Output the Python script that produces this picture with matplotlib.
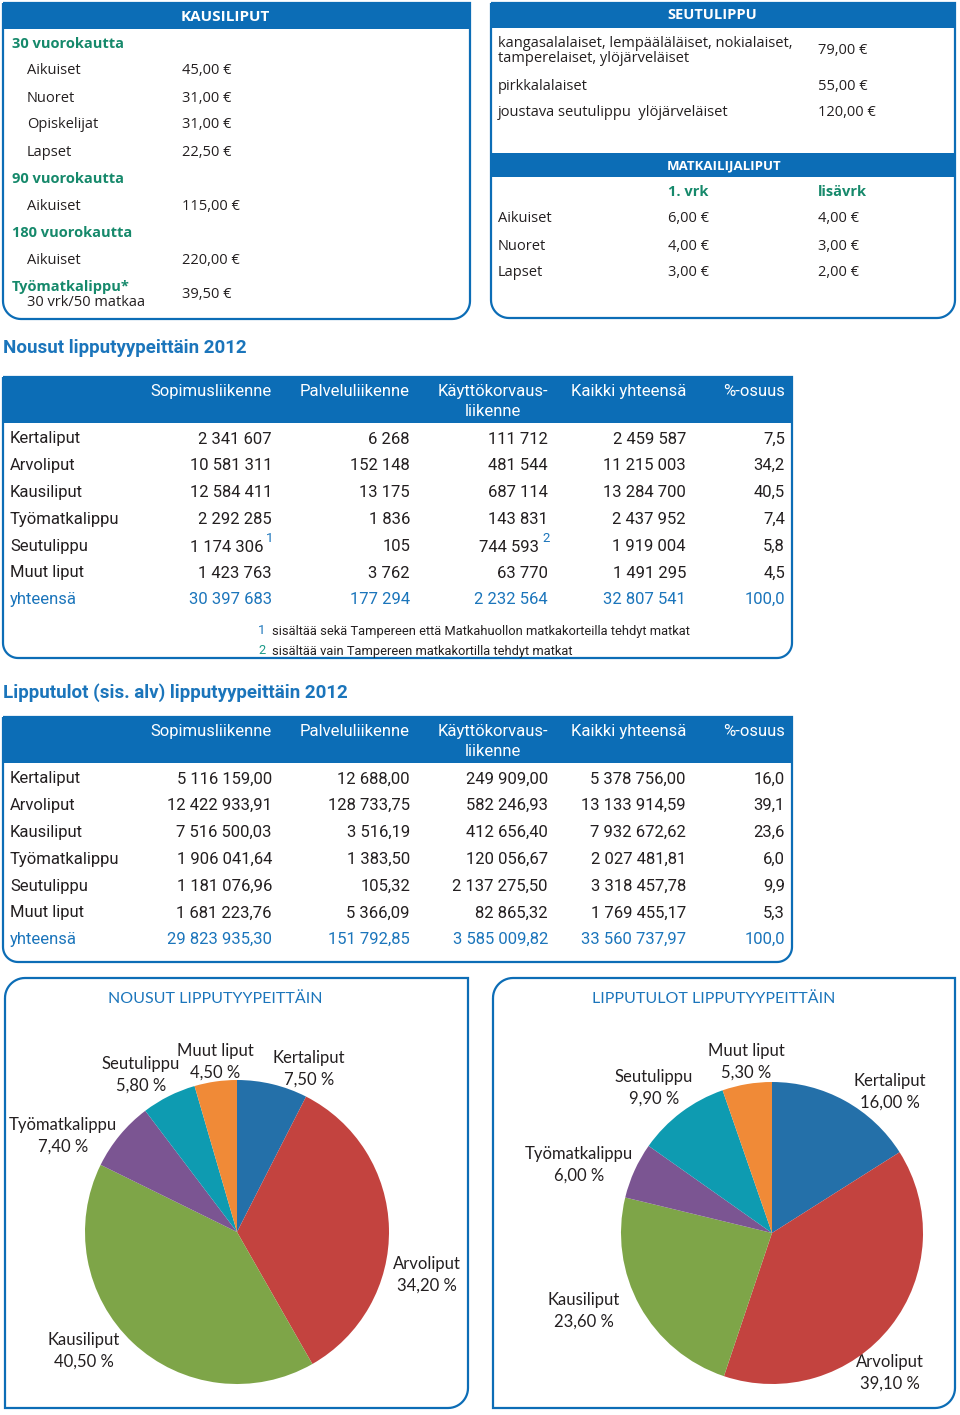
import numpy as np
import matplotlib
matplotlib.use("Agg")
import matplotlib.pyplot as plt
from matplotlib.path import Path
from matplotlib.patches import PathPatch, Rectangle
from matplotlib import font_manager

# --- data -------------------------------------------------------------
kausi_labels = ["30 vuorokautta", "Aikuiset", "Nuoret", "Opiskelijat", "Lapset",
                "90 vuorokautta", "Aikuiset", "180 vuorokautta", "Aikuiset"]
kausi_prices = ["", "45,00 €", "31,00 €", "31,00 €", "22,50 €",
                "", "115,00 €", "", "220,00 €"]
tyomatka_label = "Työmatkalippu*"
tyomatka_sub = "30 vrk/50 matkaa"
tyomatka_price = "39,50 €"

seutu_labels = ["kangasalalaiset, lempääläläiset, nokialaiset,\ntamperelaiset, ylöjärveläiset",
                "pirkkalalaiset", "joustava seutulippu  ylöjärveläiset"]
seutu_prices = ["79,00 €", "55,00 €", "120,00 €"]

matkailija_groups = ["Aikuiset", "Nuoret", "Lapset"]
matkailija_cols = ["1. vrk", "lisävrk"]
matkailija_first = ["6,00 €", "4,00 €", "3,00 €"]
matkailija_extra = ["4,00 €", "3,00 €", "2,00 €"]

table_columns = ["Sopimusliikenne", "Palveluliikenne", "Käyttökorvaus-\nliikenne",
                 "Kaikki yhteensä", "%-osuus"]
ticket_types = ["Kertaliput", "Arvoliput", "Kausiliput", "Työmatkalippu",
                "Seutulippu", "Muut liput"]

nousut_sopimus = [2341607, 10581311, 12584411, 2292285, 1174306, 1423763]
nousut_palvelu = [6268, 152148, 13175, 1836, 105, 3762]
nousut_kayttokorvaus = [111712, 481544, 687114, 143831, 744593, 63770]
nousut_kaikki = [2459587, 11215003, 13284700, 2437952, 1919004, 1491295]
nousut_osuus = [7.5, 34.2, 40.5, 7.4, 5.8, 4.5]
nousut_yhteensa = [30397683, 177294, 2232564, 32807541, 100.0]
nousut_footnotes = ["sisältää sekä Tampereen että Matkahuollon matkakorteilla tehdyt matkat",
                    "sisältää vain Tampereen matkakortilla tehdyt matkat"]

tulot_sopimus = [5116159.00, 12422933.91, 7516500.03, 1906041.64, 1181076.96, 1681223.76]
tulot_palvelu = [12688.00, 128733.75, 3516.19, 1383.50, 105.32, 5366.09]
tulot_kayttokorvaus = [249909.00, 582246.93, 412656.40, 120056.67, 2137275.50, 82865.32]
tulot_kaikki = [5378756.00, 13133914.59, 7932672.62, 2027481.81, 3318457.78, 1769455.17]
tulot_osuus = [16.0, 39.1, 23.6, 6.0, 9.9, 5.3]
tulot_yhteensa = [29823935.30, 151792.85, 3585009.82, 33560737.97, 100.0]

# --- style ------------------------------------------------------------
installed = {f.name for f in font_manager.fontManager.ttflist}


def pick(*names):
    for n in names:
        if n in installed:
            return n
    return "DejaVu Sans"


BOX_FONT = pick("Open Sans", "Noto Sans")
TABLE_FONT = pick("Liberation Sans Narrow", "Roboto", "Liberation Sans")
PIE_FONT = pick("Lato", "Open Sans")

BLUE = "#0c6db6"
TEXT_BLUE = "#1b75bb"
GREEN = "#16896b"
DARK = "#231f20"
pie_colors = ["#2470a9", "#c3433f", "#7ea548", "#7b5592", "#0e9bb1", "#f08a37"]

W, H = 960, 1415
fig = plt.figure(figsize=(W / 100, H / 100), dpi=100)
ax = fig.add_axes([0, 0, 1, 1])
ax.set_xlim(0, W)
ax.set_ylim(H, 0)
ax.axis("off")


def box_path(x0, y0, x1, y1, r, rounded):
    verts = []

    def corner(key, cx, cy, a0, a1, px, py):
        if key in rounded:
            t = np.radians(np.linspace(a0, a1, 14))
            verts.extend(zip(cx + r * np.cos(t), cy + r * np.sin(t)))
        else:
            verts.append((px, py))

    corner("tl", x0 + r, y0 + r, 180, 270, x0, y0)
    corner("tr", x1 - r, y0 + r, 270, 360, x1, y0)
    corner("br", x1 - r, y1 - r, 0, 90, x1, y1)
    corner("bl", x0 + r, y1 - r, 90, 180, x0, y1)
    verts.append(verts[0])
    return Path(verts)


def outline(x0, y0, x1, y1, r, rounded):
    ax.add_patch(PathPatch(box_path(x0, y0, x1, y1, r, rounded),
                           fill=False, edgecolor=BLUE, lw=1.6))


def bar(x0, y0, x1, y1):
    ax.add_patch(Rectangle((x0, y0), x1 - x0, y1 - y0, color=BLUE, lw=0))


def txt(x, y, s, font=BOX_FONT, size=10.5, color=DARK, ha="left", va="center", **kw):
    ax.text(x, y, s, fontfamily=font, fontsize=size, color=color, ha=ha, va=va, **kw)


# --- KAUSILIPUT -------------------------------------------------------
outline(3, 3, 470, 319, 18, ("bl", "br"))
bar(3, 3, 470, 29)
txt(225, 17, "KAUSILIPUT", size=11, color="white", ha="center", weight="bold")
for i, (lab, price) in enumerate(zip(kausi_labels, kausi_prices)):
    y = 44 + 27 * i
    if price:
        txt(27, y, lab)
        txt(182, y, price)
    else:
        txt(12, y, lab, color=GREEN, weight="bold")
txt(12, 287, tyomatka_label, color=GREEN, weight="bold")
txt(27, 303, tyomatka_sub)
txt(182, 295, tyomatka_price)

# --- SEUTULIPPU / MATKAILIJALIPUT ------------------------------------
outline(491, 3, 955, 318, 18, ("bl", "br"))
bar(491, 3, 955, 28)
txt(712, 15, "SEUTULIPPU", size=10.5, color="white", ha="center", weight="bold")
for lab, price, y in zip(seutu_labels, seutu_prices, [51, 86, 113]):
    txt(498, y, lab, linespacing=1.0)
    txt(818, y, price)
bar(491, 153, 955, 177)
txt(724, 166, "MATKAILIJALIPUT", size=9.5, color="white", ha="center", weight="bold")
for col, x in zip(matkailija_cols, [668, 818]):
    txt(x, 192, col, color=GREEN, weight="bold")
for i, (g, a, b) in enumerate(zip(matkailija_groups, matkailija_first, matkailija_extra)):
    y = 219 + 27 * i
    txt(498, y, g)
    txt(668, y, a)
    txt(818, y, b)


# --- tables -----------------------------------------------------------
def fmt_int(v):
    return f"{v:,}".replace(",", " ")


def fmt_eur(v):
    return f"{v:,.2f}".replace(",", " ").replace(".", ",")


def fmt_pct(v):
    return f"{v:.1f}".replace(".", ",")


col_right = [272, 410, 548, 686, 785]
TS = 12


def draw_table(title, title_y, top, bottom, cols, totals, fmt, notes=None):
    txt(3, title_y, title, font=TABLE_FONT, size=13.5, color=TEXT_BLUE, weight="bold")
    outline(3, top, 792, bottom, 15, ("bl", "br"))
    bar(3, top, 792, top + 46)
    for name, x in zip(table_columns, col_right):
        txt(x, top + 7, name, font=TABLE_FONT, size=TS, color="white",
            ha="right", va="top", multialignment="center", linespacing=1.45)
    pitch = 26.8
    y0 = top + 62
    for r, lab in enumerate(ticket_types):
        y = y0 + pitch * r
        txt(10, y, lab, font=TABLE_FONT, size=TS)
        for c, (vals, x) in enumerate(zip(cols, col_right)):
            s = fmt_pct(vals[r]) if c == 4 else fmt(vals[r])
            mark = notes.get((r, c)) if notes else None
            if mark:
                txt(x - 9, y + 1, s, font=TABLE_FONT, size=TS, ha="right")
                txt(x - 6, y - 8, mark, font=TABLE_FONT, size=9.5, color=TEXT_BLUE)
            else:
                txt(x, y, s, font=TABLE_FONT, size=TS, ha="right")
    y = y0 + pitch * len(ticket_types)
    txt(10, y, "yhteensä", font=TABLE_FONT, size=TS, color=TEXT_BLUE)
    for c, (v, x) in enumerate(zip(totals, col_right)):
        s = fmt_pct(v) if c == 4 else fmt(v)
        txt(x, y, s, font=TABLE_FONT, size=TS, color=TEXT_BLUE, ha="right")


draw_table("Nousut lipputyypeittäin 2012", 348, 377, 658,
           [nousut_sopimus, nousut_palvelu, nousut_kayttokorvaus, nousut_kaikki, nousut_osuus],
           nousut_yhteensa, fmt_int, notes={(4, 0): "1", (4, 2): "2"})
for i, note in enumerate(nousut_footnotes):
    y = 631 + 20 * i
    txt(258, y, str(i + 1), font=TABLE_FONT, size=9.3, color=[TEXT_BLUE, "#1d9a8a"][i])
    txt(272, y, note, font=TABLE_FONT, size=9.3)

draw_table("Lipputulot (sis. alv) lipputyypeittäin 2012", 693, 717, 962,
           [tulot_sopimus, tulot_palvelu, tulot_kayttokorvaus, tulot_kaikki, tulot_osuus],
           tulot_yhteensa, fmt_eur)


# --- pies -------------------------------------------------------------
def draw_pie(x0, x1, title, title_x, cx, cy, r, values, label_xy):
    outline(x0, 978, x1, 1408, 20, ("tl", "br"))
    txt(title_x, 999, title, font=PIE_FONT, size=11.5, color=TEXT_BLUE, ha="center")
    pax = fig.add_axes([(cx - r) / W, 1 - (cy + r) / H, 2 * r / W, 2 * r / H])
    pax.pie(values, colors=pie_colors, startangle=90, counterclock=False,
            wedgeprops=dict(linewidth=0))
    pax.set_xlim(-1, 1)
    pax.set_ylim(-1, 1)
    pax.axis("off")
    for name, v, (lx, ly) in zip(ticket_types, values, label_xy):
        s = name + "\n" + f"{v:.2f}".replace(".", ",") + " %"
        txt(lx, ly, s, font=PIE_FONT, size=12, ha="center", multialignment="center",
            linespacing=1.4, zorder=5)


left_label_xy = [(309, 1069), (427, 1275), (84, 1351), (63, 1136), (141, 1075), (215, 1062)]
right_label_xy = [(890, 1092), (890, 1373), (584, 1311), (579, 1165), (654, 1088), (746, 1062)]

draw_pie(5, 468, "NOUSUT LIPPUTYYPEITTÄIN", 215, 237, 1232, 152, nousut_osuus, left_label_xy)
draw_pie(493, 955, "LIPPUTULOT LIPPUTYYPEITTÄIN", 714, 772, 1233, 151, tulot_osuus, right_label_xy)

fig.savefig("out.png", dpi=100)
